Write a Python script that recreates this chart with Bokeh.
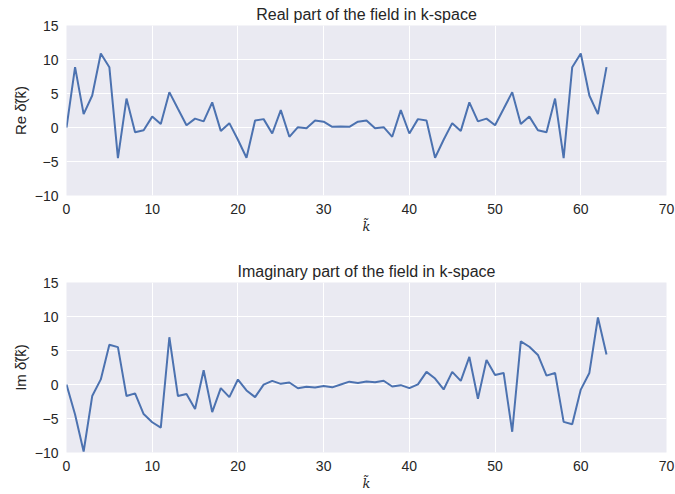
from bokeh.plotting import figure
from bokeh.layouts import column
from bokeh.models import FixedTicker, Range1d
from bokeh.embed import file_html
from bokeh.resources import INLINE

k = list(range(64))

re_vals = [0.0, 8.87, 1.96, 4.7, 10.88, 8.87, -4.5, 4.26, -0.69, -0.4,
           1.6, 0.5, 5.2, 2.75, 0.34, 1.3, 0.9, 3.7, -0.5, 0.64,
           -1.8, -4.45, 1.03, 1.23, -0.88, 2.55, -1.37, 0.05, -0.12, 1.03,
           0.85, 0.1, 0.15, 0.1, 0.85, 1.03, -0.12, 0.05, -1.37, 2.55,
           -0.88, 1.23, 1.03, -4.45, -1.8, 0.64, -0.5, 3.7, 0.9, 1.3,
           0.34, 2.75, 5.2, 0.5, 1.6, -0.4, -0.69, 4.26, -4.5, 8.87,
           10.88, 4.7, 1.96, 8.87]

im_vals = [0.0, -4.4, -9.85, -1.7, 0.75, 5.85, 5.5, -1.7, -1.3, -4.35,
           -5.55, -6.35, 6.95, -1.7, -1.4, -3.6, 2.1, -4.05, -0.54, -1.86,
           0.73, -0.88, -1.86, -0.02, 0.54, 0.1, 0.3, -0.55, -0.32, -0.45,
           -0.22, -0.42, 0.0, 0.42, 0.22, 0.45, 0.32, 0.55, -0.3, -0.1,
           -0.54, 0.02, 1.86, 0.88, -0.73, 1.86, 0.54, 4.05, -2.1, 3.6,
           1.4, 1.7, -6.95, 6.35, 5.55, 4.35, 1.3, 1.7, -5.5, -5.85,
           -0.75, 1.7, 9.85, 4.4]

titles = ["Real part of the field in k-space", "Imaginary part of the field in k-space"]
ylabels = ["Re \u03b4\u0303(k\u0303)", "Im \u03b4\u0303(k\u0303)"]
xlabel = "k\u0303"
xticks = [0, 10, 20, 30, 40, 50, 60, 70]
yticks = [-10, -5, 0, 5, 10, 15]

FONT = "Liberation Sans"
TXT = "#262626"


def make(vals, title, ylabel, top, bottom):
    p = figure(width=675, height=247, output_backend="svg", toolbar_location=None,
               x_range=Range1d(0, 70), y_range=Range1d(-10, 15),
               min_border_left=66, min_border_right=9,
               min_border_top=top, min_border_bottom=bottom)
    p.title.text = title
    p.title.align = "center"
    p.title.text_font = FONT
    p.title.text_font_size = "16px"
    p.title.text_font_style = "normal"
    p.title.text_color = TXT
    p.title.offset = 0
    p.title.standoff = 5
    p.background_fill_color = "#EAEAF2"
    p.border_fill_color = "white"
    p.outline_line_color = None
    for ax in (p.xaxis[0], p.yaxis[0]):
        ax.axis_line_color = None
        ax.major_tick_line_color = None
        ax.minor_tick_line_color = None
        ax.major_tick_out = 0
        ax.major_tick_in = 0
        ax.minor_tick_out = 0
        ax.minor_tick_in = 0
        ax.major_label_text_font = FONT
        ax.major_label_text_font_size = "14px"
        ax.major_label_text_color = TXT
        ax.major_label_standoff = 8
    p.xaxis.ticker = FixedTicker(ticks=xticks)
    p.yaxis.ticker = FixedTicker(ticks=yticks)
    p.xaxis.axis_label = xlabel
    p.xaxis.axis_label_text_font = "DejaVu Serif"
    p.xaxis.axis_label_text_font_style = "italic"
    p.xaxis.axis_label_text_font_size = "13px"
    p.xaxis.axis_label_text_color = TXT
    p.xaxis.axis_label_standoff = 2
    p.yaxis.axis_label = ylabel
    p.yaxis.axis_label_text_font = FONT
    p.yaxis.axis_label_text_font_style = "normal"
    p.yaxis.axis_label_text_font_size = "15px"
    p.yaxis.axis_label_text_color = TXT
    p.yaxis.axis_label_standoff = 3
    p.xgrid.grid_line_color = "white"
    p.ygrid.grid_line_color = "white"
    p.xgrid.grid_line_width = 1
    p.ygrid.grid_line_width = 1
    p.line(k, vals, line_color="#4C72B0", line_width=2)
    return p


p1 = make(re_vals, titles[0], ylabels[0], 25, 52)
p2 = make(im_vals, titles[1], ylabels[1], 35, 42)
layout = column(p1, p2, spacing=0)

open("out.html", "w").write(file_html(layout, INLINE))
